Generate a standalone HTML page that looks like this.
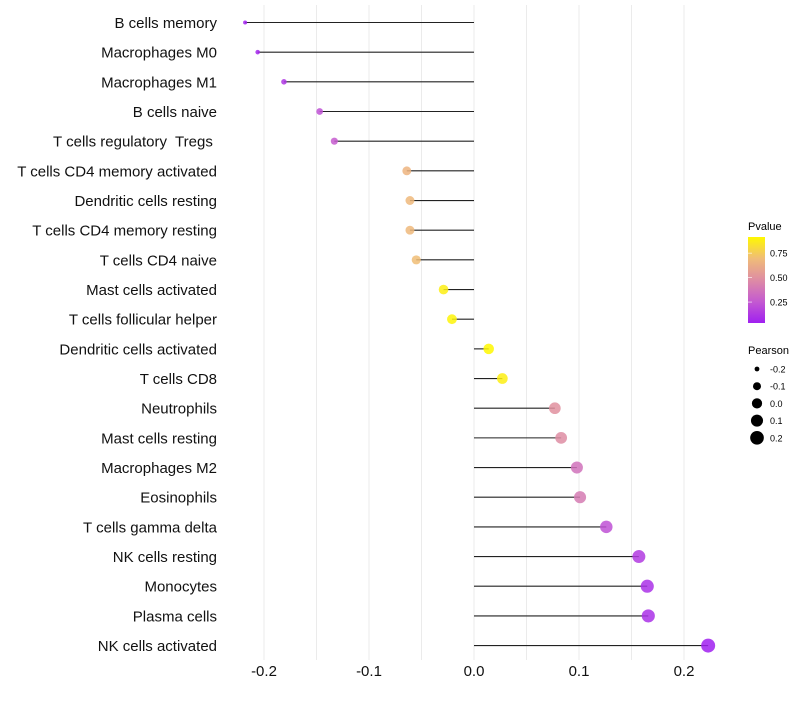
<!DOCTYPE html>
<html><head><meta charset="utf-8"><style>
body{margin:0;background:#fff;font-family:"Liberation Sans",sans-serif}
text{white-space:pre}
</style></head><body>
<svg id="chart" width="800" height="700" xmlns="http://www.w3.org/2000/svg" font-family="Liberation Sans, sans-serif">
<g id="grid"></g>
<g id="marks"></g>
<g id="ylabels"></g>
<g id="xlabels"></g>
<g id="legend">
  <defs><linearGradient id="cg" x1="0" y1="1" x2="0" y2="0">
    <stop offset="0" stop-color="#A020F0"/><stop offset="0.25" stop-color="#C45AD0"/>
    <stop offset="0.5" stop-color="#DE8CA4"/><stop offset="0.75" stop-color="#F0BC78"/>
    <stop offset="1" stop-color="#FFF800"/></linearGradient></defs>
  <text x="748" y="230" font-size="11">Pvalue</text>
  <rect x="748" y="237" width="17" height="86" fill="url(#cg)"/>
</g>
</svg>
<script>
const categories=["B cells memory","Macrophages M0","Macrophages M1","B cells naive","T cells regulatory  Tregs ","T cells CD4 memory activated","Dendritic cells resting","T cells CD4 memory resting","T cells CD4 naive","Mast cells activated","T cells follicular helper","Dendritic cells activated","T cells CD8","Neutrophils","Mast cells resting","Macrophages M2","Eosinophils","T cells gamma delta","NK cells resting","Monocytes","Plasma cells","NK cells activated"];
const pearson=[-0.218,-0.206,-0.181,-0.147,-0.133,-0.064,-0.061,-0.061,-0.055,-0.029,-0.021,0.014,0.027,0.077,0.083,0.098,0.101,0.126,0.157,0.165,0.166,0.223];
const pvalues=[0.04,0.06,0.12,0.22,0.26,0.66,0.68,0.68,0.70,0.88,0.90,0.915,0.88,0.50,0.48,0.36,0.40,0.22,0.14,0.10,0.10,0.036];
const xTicks=[-0.2,-0.1,0.0,0.1,0.2];
const xTickLabels=["-0.2","-0.1","0.0","0.1","0.2"];
const gridVals=[-0.2,-0.15,-0.1,-0.05,0,0.05,0.1,0.15,0.2];
const pTicks=[0.25,0.5,0.75];
const sizeBreaks=[-0.2,-0.1,0.0,0.1,0.2];
const NS="http://www.w3.org/2000/svg";
const x=v=>474+v*1050;
const y=i=>22.5+i*29.67;
const rad=v=>Math.sqrt(Math.max(1,4+(v+0.218)*102));
const pmin=Math.min(...pvalues),pmax=Math.max(...pvalues);
const stops=[[0,[160,32,240]],[0.25,[196,90,208]],[0.5,[222,140,164]],[0.75,[240,188,120]],[1,[255,248,0]]];
function col(p){let t=(p-pmin)/(pmax-pmin);t=Math.max(0,Math.min(1,t));
 for(let k=1;k<stops.length;k++){if(t<=stops[k][0]){const a=stops[k-1],b=stops[k],u=(t-a[0])/(b[0]-a[0]);
 return 'rgb('+a[1].map((c,j)=>Math.round(c+(b[1][j]-c)*u)).join(',')+')';}}return 'rgb(255,248,0)';}
function mk(tag,attrs,parent){const e=document.createElementNS(NS,tag);for(const k in attrs)e.setAttribute(k,attrs[k]);parent.appendChild(e);return e;}
const grid=document.getElementById('grid'),marks=document.getElementById('marks'),yl=document.getElementById('ylabels'),xl=document.getElementById('xlabels'),lg=document.getElementById('legend');
gridVals.forEach(v=>{const l=mk('line',{x1:x(v),x2:x(v),y1:5,y2:660,stroke:'#ebebeb','stroke-width':1},grid);

});
categories.forEach((c,i)=>{
 const l=mk('line',{x1:x(0),x2:x(pearson[i]),y1:y(i),y2:y(i),stroke:'#222','stroke-width':1.1},marks);
 
 
 const p=mk('circle',{cx:x(pearson[i]),cy:y(i),r:rad(pearson[i]),fill:col(pvalues[i]),'fill-opacity':0.85},marks);
 
 
 const t=mk('text',{x:217,y:y(i)+5.5,'text-anchor':'end','font-size':15,fill:'#111'},yl);t.textContent=c;
 
 
});
xTicks.forEach((v,i)=>{const t=mk('text',{x:x(v),y:676,'text-anchor':'middle','font-size':15,fill:'#111'},xl);t.textContent=xTickLabels[i];

});
pTicks.forEach(p=>{const yy=323-(p-pmin)/(pmax-pmin)*86;
 const t=mk('text',{x:770,y:yy+3.5,'font-size':9},lg);t.textContent=p.toFixed(2);
 
 
 const tk=mk('line',{x1:748,x2:752,y1:yy,y2:yy,stroke:'#fff','stroke-width':0.6},lg);
 
 });
const st=mk('text',{x:748,y:354,'font-size':11},lg);st.textContent='Pearson';


sizeBreaks.forEach((v,i)=>{const yy=369+i*17.2;
 const c=mk('circle',{cx:757,cy:yy,r:rad(v),fill:'#000'},lg);
 
 
 const t=mk('text',{x:770,y:yy+3.5,'font-size':9},lg);t.textContent=v.toFixed(1);
 
 });
</script>
</body></html>
